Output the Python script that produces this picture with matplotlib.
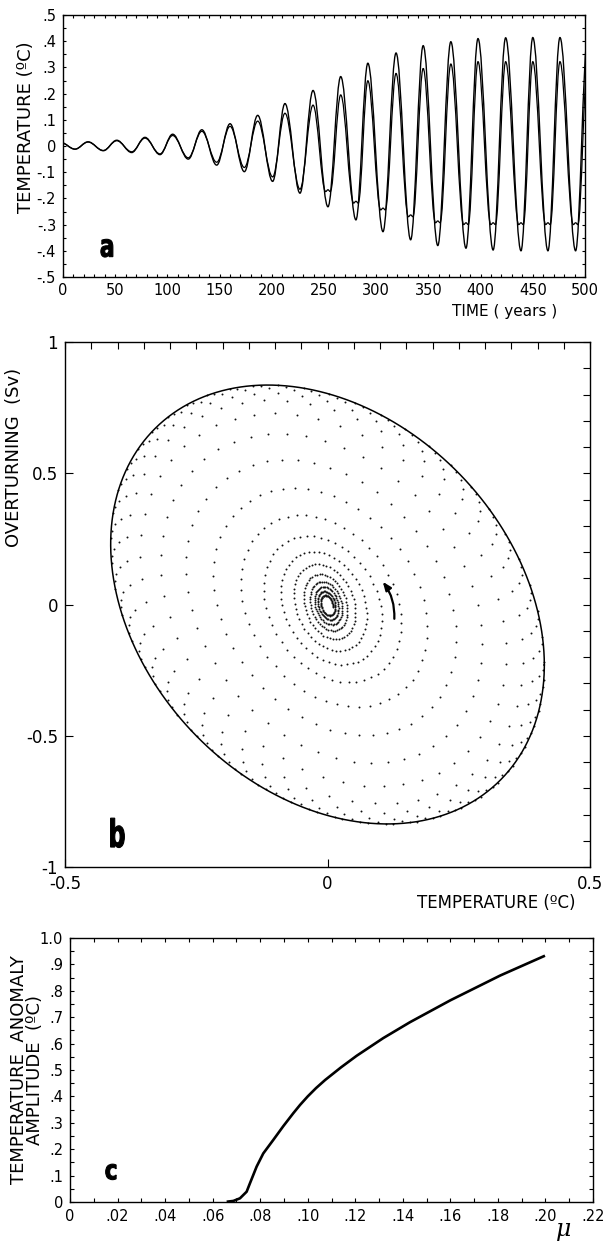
import numpy as np
import matplotlib
matplotlib.use('Agg')
import matplotlib.pyplot as plt
from matplotlib.path import Path
from matplotlib.patches import PathPatch, FancyArrowPatch
from matplotlib.ticker import MultipleLocator
from matplotlib.textpath import TextPath
from matplotlib.font_manager import FontProperties
from matplotlib.transforms import Affine2D, ScaledTranslation

plt.rcParams['font.family'] = ['DejaVu Sans']
plt.rcParams['axes.linewidth'] = 1.0

# ---------------- data: panel a (extrema of the two temperature series) -------------
a_outer_time = [-2, 11.5, 24, 38.6, 51.5, 65.8, 78.5, 92.9, 105, 120, 133, 147.2, 160,
                173.7, 186.5, 200.8, 212.6, 227, 239.5, 253.8, 266, 280.6, 292, 306.5,
                319, 333, 345, 359, 371.5, 386, 397.5, 412, 424, 438.7, 450, 464.5,
                476, 491, 502.5]
a_outer = [0.013, -0.012, 0.016, -0.018, 0.022, -0.025, 0.033, -0.033, 0.045, -0.05,
           0.062, -0.073, 0.085, -0.098, 0.117, -0.135, 0.162, -0.18, 0.212, -0.232,
           0.265, -0.282, 0.316, -0.327, 0.355, -0.358, 0.383, -0.38, 0.398, -0.39,
           0.41, -0.397, 0.413, -0.40, 0.414, -0.40, 0.414, -0.40, 0.414]
a_inner_time = [-2, 11.5, 24, 38.6, 51.5, 65.8, 78.5, 92.9, 105, 120, 133, 147.2, 160,
                173.7, 186.5, 200.8, 212.6, 227, 239.5,
                251.6, 253.8, 256.0, 266, 278.4, 280.6, 282.8, 292, 304.3, 306.5, 308.7, 319,
                330.8, 333, 335.2, 345, 356.8, 359, 361.2, 371.5, 383.8, 386, 388.2, 397.5,
                409.8, 412, 414.2, 424, 436.5, 438.7, 440.9, 450, 462.3, 464.5, 466.7, 476,
                488.8, 491, 493.2, 502.5]
a_inner = [0.013, -0.012, 0.015, -0.017, 0.02, -0.022, 0.03, -0.03, 0.04, -0.045,
           0.056, -0.062, 0.075, -0.082, 0.095, -0.118, 0.125, -0.165, 0.156,
           -0.174, -0.167, -0.174, 0.195, -0.218, -0.211, -0.218, 0.249,
           -0.244, -0.237, -0.244, 0.277, -0.27, -0.263, -0.27, 0.296,
           -0.293, -0.286, -0.293, 0.313, -0.30, -0.293, -0.30, 0.322,
           -0.30, -0.293, -0.30, 0.322, -0.30, -0.293, -0.30, 0.322,
           -0.30, -0.293, -0.30, 0.322, -0.30, -0.293, -0.30, 0.322]
a_xticks = [0, 50, 100, 150, 200, 250, 300, 350, 400, 450, 500]
a_yticks = [0.5, 0.4, 0.3, 0.2, 0.1, 0, -0.1, -0.2, -0.3, -0.4, -0.5]
a_yticklabels = ['.5', '.4', '.3', '.2', '.1', '0', '-.1', '-.2', '-.3', '-.4', '-.5']

# ---------------- data: panel b (per-cycle loop amplitudes) ----------------
b_loop_T_amp = [0.01, 0.015, 0.021, 0.028, 0.038, 0.053, 0.075, 0.103, 0.14, 0.19,
                0.245, 0.295, 0.34, 0.373, 0.392, 0.404, 0.41, 0.413, 0.413]
b_loop_S_amp = [0.03, 0.045, 0.062, 0.08, 0.105, 0.14, 0.185, 0.24, 0.31, 0.41,
                0.52, 0.625, 0.71, 0.77, 0.80, 0.82, 0.83, 0.836, 0.836]
b_limit_T_amp = 0.413
b_limit_S_amp = 0.836
b_phase_lag_deg = 106
b_yticks = [-1, -0.5, 0, 0.5, 1]
b_yticklabels = ['-1', '-0.5', '0', '0.5', '1']
b_xticks = [-0.5, 0, 0.5]
b_xticklabels = ['-0.5', '0', '0.5']

# ---------------- data: panel c (bifurcation curve) ----------------
c_mu = [0.0659, 0.0687, 0.0715, 0.0743, 0.0757, 0.0785, 0.0813, 0.0855, 0.0897,
        0.0939, 0.0968, 0.100, 0.1035, 0.1073, 0.114, 0.1206, 0.1318, 0.143, 0.16,
        0.181, 0.1998]
c_amp = [0.001, 0.004, 0.014, 0.039, 0.071, 0.134, 0.184, 0.235, 0.287, 0.336,
         0.368, 0.400, 0.4315, 0.462, 0.510, 0.554, 0.621, 0.681, 0.764, 0.858, 0.933]
c_xticks = [0, .02, .04, .06, .08, .10, .12, .14, .16, .18, .20, .22]
c_xticklabels = ['0', '.02', '.04', '.06', '.08', '.10', '.12', '.14', '.16', '.18', '.20', '.22']
c_yticks = [0, .1, .2, .3, .4, .5, .6, .7, .8, .9, 1.0]
c_yticklabels = ['0', '.1', '.2', '.3', '.4', '.5', '.6', '.7', '.8', '.9', '1.0']

W, H = 604, 1241
fig = plt.figure(figsize=(W / 100, H / 100), dpi=100)


def rect(l, t, r, b):
    return [l / W, 1 - b / H, (r - l) / W, (b - t) / H]


def smooth_path(times, values, k=0.364):
    verts = [(times[0], values[0])]
    codes = [Path.MOVETO]
    for i in range(len(times) - 1):
        t0, v0, t1, v1 = times[i], values[i], times[i + 1], values[i + 1]
        d = (t1 - t0) * k
        verts += [(t0 + d, v0), (t1 - d, v1), (t1, v1)]
        codes += [Path.CURVE4] * 3
    return Path(verts, codes)


def panel_letter(ax, x, y, ch, size_px, sx):
    fp = FontProperties(family='DejaVu Sans', weight='bold')
    tp = TextPath((0, 0), ch, size=size_px, prop=fp)
    bb = tp.get_extents()
    tr = (Affine2D().translate(-(bb.x0 + bb.width / 2), -(bb.y0 + bb.height / 2))
          .scale(sx, 1.0) + ScaledTranslation(x, y, ax.transData))
    ax.add_patch(PathPatch(tp, transform=tr, fc='black', ec='black', lw=0.8))


FS = 10.5

# ================= panel a =================
axa = fig.add_axes(rect(63, 15, 585, 277))
axa.set_xlim(0, 500)
axa.set_ylim(-0.5, 0.5)
axa.add_patch(PathPatch(smooth_path(a_outer_time, a_outer), fill=False, lw=1.0, ec='black'))
axa.add_patch(PathPatch(smooth_path(a_inner_time, a_inner), fill=False, lw=0.9, ec='black'))
axa.set_xticks(a_xticks)
axa.set_xticklabels([str(v) for v in a_xticks])
axa.xaxis.set_minor_locator(MultipleLocator(10))
axa.set_yticks(a_yticks)
axa.set_yticklabels(a_yticklabels)
axa.yaxis.set_minor_locator(MultipleLocator(0.05))
axa.tick_params(which='both', direction='in', top=True, right=True, length=2.5,
                width=0.8, labelsize=FS)
axa.tick_params(axis='x', pad=4)
axa.tick_params(axis='y', pad=5)
axa.set_ylabel('TEMPERATURE (ºC)', fontsize=13)
axa.yaxis.set_label_coords(-0.054, 0.573)
axa.text(423, -0.63, 'TIME ( years )', fontsize=11, ha='center', va='center')
panel_letter(axa, 42, -0.39, 'a', 31, 0.7)

# ================= panel b =================
axb = fig.add_axes(rect(65, 342, 590, 867))
axb.set_xlim(-0.5, 0.5)
axb.set_ylim(-1, 1)
n_loops = len(b_loop_T_amp)
dots_per_loop = 52.7
theta = np.arange(0, (n_loops - 1) * 2 * np.pi, 2 * np.pi / dots_per_loop)
loop_idx = theta / (2 * np.pi)
A = np.interp(loop_idx, np.arange(n_loops), b_loop_T_amp)
B = np.interp(loop_idx, np.arange(n_loops), b_loop_S_amp)
lag = np.deg2rad(b_phase_lag_deg)
axb.scatter(A * np.cos(theta), B * np.cos(theta - lag), s=2.0, c='#111111',
            linewidths=0)
th = np.linspace(0, 2 * np.pi, 400)
axb.plot(b_limit_T_amp * np.cos(th), b_limit_S_amp * np.cos(th - lag), color='black', lw=1.1)
arrow = FancyArrowPatch((0.127, -0.065), (0.102, 0.095), connectionstyle='arc3,rad=0.2',
                        arrowstyle='-|>,head_length=5,head_width=2', lw=1.6, color='black',
                        mutation_scale=1)
axb.add_patch(arrow)
axb.xaxis.remove_overlapping_locs = False
axb.yaxis.remove_overlapping_locs = False
axb.set_xticks(b_xticks)
axb.set_xticklabels(b_xticklabels)
axb.set_yticks(b_yticks)
axb.set_yticklabels(b_yticklabels)
axb.xaxis.set_minor_locator(MultipleLocator(0.05))
axb.yaxis.set_minor_locator(MultipleLocator(0.1))
axb.tick_params(which='major', direction='in', length=5.5, width=0.8, labelsize=12,
                top=False, right=False, bottom=True, left=True)
axb.tick_params(which='minor', direction='in', length=5, width=0.8,
                top=True, right=True, bottom=False, left=False)
axb.tick_params(axis='x', pad=6)
axb.tick_params(axis='y', pad=5)
axb.set_ylabel('OVERTURNING  (Sv)', fontsize=13)
axb.yaxis.set_label_coords(-0.08, 0.78)
axb.text(0.322, -1.137, 'TEMPERATURE (ºC)', fontsize=12, ha='center', va='center')
panel_letter(axb, -0.40, -0.87, 'b', 38, 0.62)

# ================= panel c =================
axc = fig.add_axes(rect(70, 938, 593, 1202))
axc.set_xlim(0, 0.22)
axc.set_ylim(0, 1.0)
axc.plot(c_mu, c_amp, color='black', lw=1.9, solid_capstyle='butt', solid_joinstyle='round')
axc.set_xticks(c_xticks)
axc.set_xticklabels(c_xticklabels)
axc.xaxis.set_minor_locator(MultipleLocator(0.01))
axc.set_yticks(c_yticks)
axc.set_yticklabels(c_yticklabels)
axc.yaxis.set_minor_locator(MultipleLocator(0.05))
axc.tick_params(which='both', direction='in', top=True, right=True, length=3,
                width=0.8, labelsize=FS)
axc.tick_params(axis='x', pad=5)
axc.tick_params(axis='y', pad=5)
axc.set_ylabel('TEMPERATURE  ANOMALY\nAMPLITUDE  (ºC)', fontsize=13, linespacing=0.88)
axc.yaxis.set_label_coords(-0.05, 0.5)
axc.text(0.2075, -0.105, 'μ', fontsize=17, ha='center', va='center',
         family='DejaVu Serif', style='italic')
panel_letter(axc, 0.0172, 0.114, 'c', 27, 0.8)

fig.savefig('out.png', dpi=100)
